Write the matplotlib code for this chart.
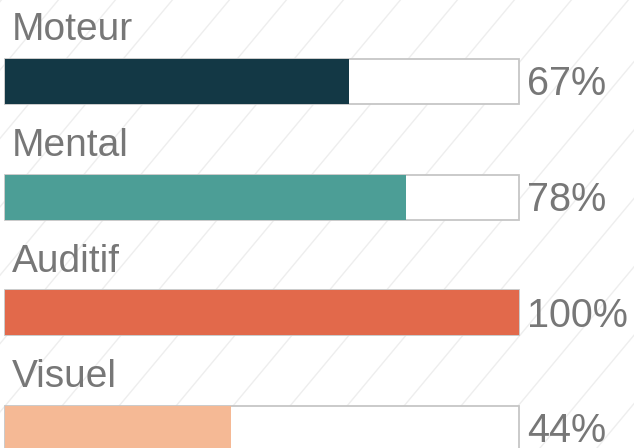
import matplotlib
matplotlib.use("Agg")
import matplotlib.pyplot as plt
from matplotlib.lines import Line2D
import numpy as np

categories = ["Moteur", "Mental", "Auditif", "Visuel"]
values = [67, 78, 100, 44]
pct_labels = ["67%", "78%", "100%", "44%"]
colors = ["#133845", "#4c9e96", "#e2694b", "#f5b995"]

W, H = 634, 448
fig = plt.figure(figsize=(W / 100, H / 100), dpi=100)
fig.patch.set_facecolor("white")

# faint diagonal background lines
slope = 1.2
for x0 in np.arange(-600, 700, 57):
    fig.add_artist(Line2D([x0 / W, (x0 + 500) / W], [0, 500 * slope / H],
                          transform=fig.transFigure, color="#eeeeee",
                          lw=1.0, zorder=0))

ax = fig.add_axes([0, 0, 1, 1])
ax.set_facecolor("none")
px = 5.14
ax.set_xlim(-5 / px, (W - 5) / px)
step = 115.67
c0 = 81.5
ax.set_ylim((H - c0) / step, -c0 / step)
ax.axis("off")

bh = 45 / step
y = np.arange(len(categories))
ax.barh(y, [100] * len(y), height=bh, color="white", edgecolor="#c6c6c6",
        linewidth=1.3, zorder=2)
ax.barh(y, values, height=bh, color=colors, edgecolor="none", zorder=3)

txt = "#777777"
for i, (cat, lab) in enumerate(zip(categories, pct_labels)):
    ax.text(1.35, i - 0.355, cat, fontsize=28,
            family="Liberation Sans", color=txt, va="baseline", ha="left")
    ax.text(101.5, i + 0.12, lab, fontsize=28.5,
            family="Liberation Sans", color=txt, va="baseline", ha="left")

fig.savefig("out.png", dpi=100)
